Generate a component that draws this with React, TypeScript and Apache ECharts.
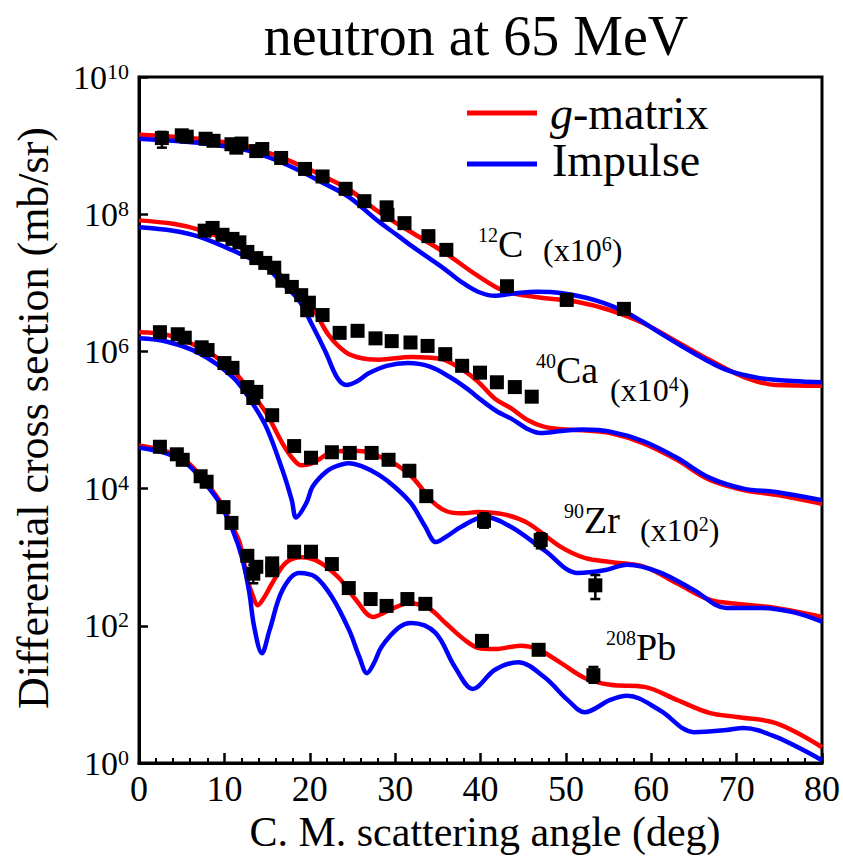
import React, { useEffect, useRef } from "react";
import * as echarts from "echarts";

// All y values are log10 of the plotted cross section (mb/sr, already scaled).
// Curves: [angle (deg), log10 value]
const C12_GMATRIX = [[0,9.16],[4,9.13],[7,9.10],[10,9.05],[13,8.98],[16,8.86],[18.7,8.72],[21.5,8.56],[24.6,8.36],[28,8.04],[30.4,7.85],[32,7.73],[35.8,7.44],[39.7,7.10],[42.8,6.88],[46.7,6.79],[51.4,6.72],[55.2,6.60],[59.1,6.41],[63,6.14],[66.9,5.87],[70.8,5.63],[74.6,5.51],[80,5.50]];
const C12_IMPULSE = [[0,9.10],[4,9.07],[7,9.04],[10,8.99],[13,8.92],[16,8.79],[18.7,8.64],[21.5,8.46],[24.6,8.25],[28,7.90],[30.4,7.68],[32,7.53],[35.8,7.20],[37.8,7.01],[39.7,6.87],[41.7,6.81],[43.6,6.84],[46.7,6.87],[49.4,6.85],[53.3,6.75],[57.2,6.56],[61,6.27],[64.9,5.98],[68.8,5.73],[72.7,5.61],[76.6,5.57],[80,5.55]];
const CA40_GMATRIX = [[0,7.91],[4,7.86],[7.1,7.77],[10.9,7.59],[12.9,7.43],[14.9,7.29],[17.2,7.04],[18.7,6.85],[20.5,6.60],[22.2,6.24],[24.2,5.99],[26.1,5.90],[28.1,5.88],[31.9,5.92],[33.9,5.91],[35.9,5.87],[37.8,5.74],[39.7,5.56],[41.7,5.31],[43.6,5.17],[45.5,5.00],[47.5,4.90],[50,4.86],[52,4.85],[55.2,4.81],[59.1,4.66],[63,4.42],[66.8,4.13],[70.8,3.98],[74.6,3.91],[80,3.78]];
const CA40_IMPULSE = [[0,7.81],[4,7.76],[7.1,7.67],[11,7.47],[14.9,7.23],[16.4,7.04],[18.7,6.75],[20.3,6.38],[21.9,5.98],[23.2,5.62],[24.3,5.51],[25.5,5.56],[26.9,5.68],[29,5.79],[31.5,5.83],[34,5.78],[36.5,5.62],[38.5,5.45],[40.1,5.29],[42,5.12],[43.6,5.02],[45.5,4.87],[47,4.81],[49.5,4.84],[52,4.86],[55.2,4.83],[59.1,4.69],[63,4.45],[66.8,4.16],[70.8,4.00],[74.6,3.95],[80,3.83]];
const ZR90_GMATRIX = [[0,6.28],[3.3,6.24],[7.1,6.06],[9,5.92],[10.95,5.73],[12.9,5.44],[14.9,5.10],[16.8,4.66],[18,4.44],[19,4.34],[20.3,4.37],[22.4,4.52],[24.6,4.55],[26.5,4.54],[28.1,4.47],[30,4.36],[31.9,4.18],[33,4.02],[34.2,3.83],[35.5,3.70],[36.6,3.65],[38,3.64],[39.7,3.66],[42.9,3.62],[45.5,3.50],[49.4,3.15],[52.2,2.99],[55.2,2.93],[59.2,2.86],[63,2.62],[66.8,2.38],[70,2.32],[74.6,2.26],[80,2.13]];
const ZR90_IMPULSE = [[0,6.19],[3.3,6.14],[7.1,5.97],[10.95,5.63],[13,5.30],[14.9,4.90],[16.8,4.27],[17.9,3.83],[18.4,3.58],[19.6,3.79],[20.3,4.02],[21.5,4.20],[22.6,4.30],[24.6,4.37],[26,4.33],[28.1,4.20],[30,4.02],[31.9,3.78],[33.5,3.45],[34.8,3.22],[36,3.30],[37.7,3.44],[40.5,3.59],[43.6,3.44],[47.5,3.10],[51.4,2.77],[54.5,2.81],[57.2,2.89],[61,2.78],[65,2.52],[68.8,2.26],[72.7,2.26],[76.6,2.20],[80,2.06]];
const PB208_GMATRIX = [[0,4.63],[3.3,4.54],[5.5,4.40],[7.1,4.20],[9.4,3.83],[10.95,3.44],[11.8,3.21],[12.7,2.67],[13.3,2.45],[13.9,2.30],[14.6,2.40],[15.6,2.62],[17.2,2.92],[19.1,3.00],[21.1,2.93],[23.4,2.70],[25.4,2.38],[27.4,2.13],[29.2,2.22],[31.6,2.33],[33.9,2.26],[35.9,2.04],[38.2,1.79],[39.7,1.68],[41.7,1.66],[44.7,1.71],[46.7,1.66],[49.4,1.46],[52.2,1.24],[55.2,1.14],[59.2,1.11],[63,0.92],[66.8,0.73],[70,0.67],[74.6,0.58],[80,0.23]];
const PB208_IMPULSE = [[0,4.60],[3.3,4.51],[5.5,4.37],[7.1,4.17],[9.4,3.80],[10.95,3.40],[12.1,2.98],[12.9,2.50],[13.5,1.98],[14.4,1.60],[15.3,1.94],[16.8,2.52],[18.75,2.77],[20.7,2.71],[22.6,2.42],[24.6,1.94],[25.8,1.55],[26.7,1.31],[27.5,1.45],[28.4,1.69],[30.4,1.97],[31.9,2.04],[34.7,1.90],[37,1.40],[39.1,1.08],[41.7,1.36],[44.4,1.47],[47.5,1.25],[50.2,0.92],[52.2,0.74],[55.2,0.92],[57.2,0.98],[61,0.77],[65,0.45],[68.8,0.48],[70.8,0.51],[74.6,0.38],[80,0.04]];

// Experimental points: [angle (deg), log10 value]
const C12_DATA = [[2.68,9.11],[5.01,9.15],[5.59,9.13],[7.80,9.10],[8.73,9.07],[10.83,9.02],[11.4,8.97],[12.0,9.03],[13.74,8.92],[14.44,8.95],[16.65,8.82],[19.45,8.66],[21.5,8.55],[24.2,8.37],[26.4,8.19],[29.0,8.10],[29.1,7.99],[31.1,7.87],[33.9,7.68],[36.0,7.48],[43.1,6.95],[50.1,6.75],[56.8,6.62]];
const CA40_DATA = [[7.69,7.76],[8.62,7.80],[9.78,7.70],[10.95,7.64],[11.76,7.59],[12.69,7.45],[13.74,7.36],[14.79,7.29],[15.84,7.22],[16.8,7.03],[17.9,6.94],[19.0,6.82],[19.9,6.71],[19.7,6.60],[21.5,6.53],[23.5,6.27],[25.6,6.30],[27.7,6.19],[29.6,6.15],[31.8,6.13],[33.8,6.08],[35.87,5.96],[37.85,5.79],[39.94,5.69],[41.92,5.55],[44.02,5.48],[46.0,5.34]];
const ZR90_DATA = [[2.45,6.28],[4.54,6.25],[5.36,6.20],[7.34,6.06],[8.03,6.02],[10.01,5.83],[10.95,5.76],[12.69,5.48],[13.74,5.41],[13.39,5.32],[15.6,5.07],[18.17,4.62],[20.15,4.45],[22.59,4.53],[24.69,4.52],[27.25,4.52],[29.23,4.42],[31.67,4.26],[33.65,3.89],[40.41,3.53],[47.05,3.25],[53.45,2.59]];
const PB208_DATA = [[2.45,4.61],[4.43,4.50],[5.12,4.42],[7.22,4.18],[7.92,4.10],[9.9,3.73],[10.83,3.50],[12.69,3.02],[13.74,2.86],[13.39,2.76],[15.6,2.91],[15.6,2.81],[18.17,3.08],[20.15,3.08],[22.59,2.90],[24.57,2.55],[27.13,2.39],[29.0,2.29],[31.44,2.39],[33.54,2.32],[40.17,1.78],[46.81,1.65],[53.22,1.28]];

// Error bars: [angle, low log10, high log10]
const ERROR_BARS = [[2.68,8.97,9.20],[19.7,6.56,6.78],[40.41,3.43,3.64],[47.05,3.13,3.35],[53.45,2.39,2.74],[13.39,2.62,2.89],[40.17,1.72,1.84],[53.22,1.17,1.40]];

const X_MIN = 0, X_MAX = 80, X_STEP = 10;
const Y_MIN_EXP = 0, Y_MAX_EXP = 10, Y_STEP_EXP = 2;

const TITLE = "neutron at 65 MeV";
const X_TITLE = "C. M. scattering angle (deg)";
const Y_TITLE = "Differential cross section (mb/sr)";
const LEGEND_G = "g-matrix";
const LEGEND_I = "Impulse";

const FONT = "'Liberation Serif', 'Times New Roman', Times, serif";
const RED = "#ff0000";
const BLUE = "#0000ff";

function lineSeries(name: string, data: number[][], color: string) {
  return {
    type: "line",
    name,
    data,
    smooth: 0.35,
    showSymbol: false,
    symbol: "none",
    lineStyle: { color, width: 4.5 },
    z: color === BLUE ? 3 : 2,
    silent: true,
  };
}

function scatterSeries(name: string, data: number[][]) {
  return {
    type: "scatter",
    name,
    data,
    symbol: "rect",
    symbolSize: 14,
    itemStyle: { color: "#000", opacity: 1 },
    z: 6,
    silent: true,
  };
}

function nucleusLabel(x: number, y: number, mass: string, sym: string) {
  return {
    type: "text",
    x,
    y,
    style: {
      text: `{s|${mass}}{b|${sym}}`,
      align: "left",
      verticalAlign: "middle",
      rich: {
        s: { fontSize: 20, fontFamily: FONT, fill: "#000", color: "#000", lineHeight: 20, verticalAlign: "top" },
        b: { fontSize: 38, fontFamily: FONT, fill: "#000", color: "#000", lineHeight: 38, verticalAlign: "bottom" },
      },
    },
  };
}

function scaleLabel(x: number, y: number, exp: string) {
  return {
    type: "text",
    x,
    y,
    style: {
      text: `{m|(x10}{t|${exp}}{m|)}`,
      align: "left",
      verticalAlign: "middle",
      rich: {
        m: { fontSize: 32, fontFamily: FONT, fill: "#000", color: "#000", lineHeight: 32, verticalAlign: "bottom" },
        t: { fontSize: 20, fontFamily: FONT, fill: "#000", color: "#000", lineHeight: 20, verticalAlign: "top" },
      },
    },
  };
}

export default function App() {
  const ref = useRef<HTMLDivElement>(null);

  useEffect(() => {
    if (!ref.current) return;
    const chart = echarts.init(ref.current, null, { renderer: "svg" });

    const option: any = {
      animation: false,
      backgroundColor: "#fff",
      grid: {
        left: 139,
        top: 77,
        right: 17,
        bottom: 95,
        show: true,
        borderColor: "#000",
        borderWidth: 3,
        backgroundColor: "transparent",
      },
      xAxis: {
        type: "value",
        min: X_MIN,
        max: X_MAX,
        interval: X_STEP,
        axisLine: { show: true, lineStyle: { color: "#000", width: 3 } },
        axisTick: { show: true, inside: true, length: 10, lineStyle: { color: "#000", width: 2.5 } },
        minorTick: { show: true, splitNumber: 5, length: 5, lineStyle: { color: "#000", width: 2 } },
        splitLine: { show: false },
        axisLabel: { color: "#000", fontFamily: FONT, fontSize: 36, margin: 8 },
      },
      yAxis: {
        type: "value",
        min: Y_MIN_EXP,
        max: Y_MAX_EXP,
        interval: Y_STEP_EXP,
        axisLine: { show: true, lineStyle: { color: "#000", width: 3 } },
        axisTick: { show: true, inside: true, length: 9, lineStyle: { color: "#000", width: 2.5 } },
        splitLine: { show: false },
        axisLabel: {
          margin: 10,
          formatter: (v: number) => `{b|10}{s|${Math.round(v)}}`,
          rich: {
            b: { fontSize: 34, fontFamily: FONT, color: "#000", lineHeight: 34, verticalAlign: "bottom" },
            s: { fontSize: 22, fontFamily: FONT, color: "#000", lineHeight: 22, verticalAlign: "top" },
          },
        },
      },
      series: [
        lineSeries("g-matrix 12C", C12_GMATRIX, RED),
        lineSeries("Impulse 12C", C12_IMPULSE, BLUE),
        lineSeries("g-matrix 40Ca", CA40_GMATRIX, RED),
        lineSeries("Impulse 40Ca", CA40_IMPULSE, BLUE),
        lineSeries("g-matrix 90Zr", ZR90_GMATRIX, RED),
        lineSeries("Impulse 90Zr", ZR90_IMPULSE, BLUE),
        lineSeries("g-matrix 208Pb", PB208_GMATRIX, RED),
        lineSeries("Impulse 208Pb", PB208_IMPULSE, BLUE),
        {
          type: "custom",
          name: "errors",
          data: ERROR_BARS,
          encode: { x: 0, y: [1, 2] },
          z: 5,
          silent: true,
          renderItem: (params: any, api: any) => {
            const x = api.value(0);
            const lo = api.coord([x, api.value(1)]);
            const hi = api.coord([x, api.value(2)]);
            const cap = 5;
            const st = { stroke: "#000", lineWidth: 2.5 };
            return {
              type: "group",
              children: [
                { type: "line", shape: { x1: lo[0], y1: lo[1], x2: hi[0], y2: hi[1] }, style: st },
                { type: "line", shape: { x1: lo[0] - cap, y1: lo[1], x2: lo[0] + cap, y2: lo[1] }, style: st },
                { type: "line", shape: { x1: hi[0] - cap, y1: hi[1], x2: hi[0] + cap, y2: hi[1] }, style: st },
              ],
            };
          },
        },
        scatterSeries("12C data", C12_DATA),
        scatterSeries("40Ca data", CA40_DATA),
        scatterSeries("90Zr data", ZR90_DATA),
        scatterSeries("208Pb data", PB208_DATA),
      ],
      graphic: [
        {
          type: "text",
          x: 476,
          y: 36,
          style: { text: TITLE, fontSize: 56, fontFamily: FONT, fill: "#000", align: "center", verticalAlign: "middle" },
        },
        {
          type: "text",
          x: 485,
          y: 832,
          style: { text: X_TITLE, fontSize: 42, fontFamily: FONT, fill: "#000", align: "center", verticalAlign: "middle" },
        },
        {
          type: "text",
          x: 33,
          y: 418,
          rotation: Math.PI / 2,
          style: { text: Y_TITLE, fontSize: 44, fontFamily: FONT, fill: "#000", align: "center", verticalAlign: "middle" },
        },
        { type: "line", shape: { x1: 467, y1: 113, x2: 537, y2: 113 }, style: { stroke: RED, lineWidth: 5 } },
        { type: "line", shape: { x1: 467, y1: 164, x2: 537, y2: 164 }, style: { stroke: BLUE, lineWidth: 5 } },
        {
          type: "text",
          x: 550,
          y: 113,
          style: {
            text: `{i|${LEGEND_G.slice(0, 1)}}{n|${LEGEND_G.slice(1)}}`,
            align: "left",
            verticalAlign: "middle",
            rich: {
              i: { fontSize: 46, fontFamily: FONT, fontStyle: "italic", fill: "#000", color: "#000" },
              n: { fontSize: 46, fontFamily: FONT, fill: "#000", color: "#000" },
            },
          },
        },
        {
          type: "text",
          x: 552,
          y: 160,
          style: { text: LEGEND_I, fontSize: 46, fontFamily: FONT, fill: "#000", align: "left", verticalAlign: "middle" },
        },
        nucleusLabel(478, 244, "12", "C"),
        scaleLabel(543, 250, "6"),
        nucleusLabel(536, 370, "40", "Ca"),
        scaleLabel(610, 390, "4"),
        nucleusLabel(564, 520, "90", "Zr"),
        scaleLabel(640, 530, "2"),
        nucleusLabel(606, 647, "208", "Pb"),
      ],
    };

    chart.setOption(option);
    return () => chart.dispose();
  }, []);

  return (
    <div
      ref={ref}
      style={{ position: "fixed", left: 0, top: 0, width: 843, height: 858, background: "#fff" }}
    />
  );
}
